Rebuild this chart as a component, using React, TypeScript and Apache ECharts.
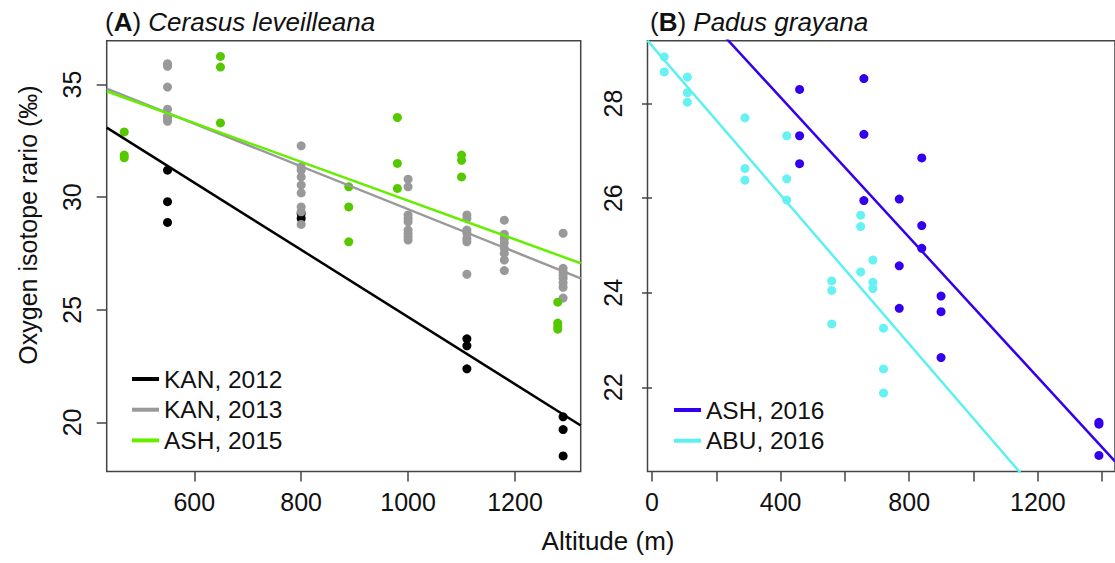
import React, { useEffect, useRef } from "react";
import * as echarts from "echarts";

// ---------- Panel A: Cerasus leveilleana ----------
const kan2012X = [550, 550, 550, 800, 800, 1110, 1110, 1110, 1290, 1290, 1290];
const kan2012Y = [31.2, 29.8, 28.88, 29.28, 29.06, 23.71, 23.4, 22.38, 20.25, 19.68, 18.51];

const kan2013X = [
  550, 550, 550, 550, 550, 550, 550,
  800, 800, 800, 800, 800, 800, 800, 800, 800,
  1000, 1000, 1000, 1000, 1000, 1000, 1000, 1000, 1000,
  1110, 1110, 1110, 1110, 1110, 1110, 1110,
  1180, 1180, 1180, 1180, 1180, 1180, 1180, 1180,
  1290, 1290, 1290, 1290, 1290, 1290, 1290, 1290,
];
const kan2013Y = [
  35.93, 35.81, 34.89, 33.91, 33.59, 33.49, 33.37,
  32.28, 31.35, 31.2, 30.9, 30.54, 30.19, 29.57, 29.35, 28.79,
  30.8, 30.46, 29.21, 29.06, 28.91, 28.54, 28.4, 28.24, 28.1,
  29.21, 29.06, 28.54, 28.4, 28.17, 28.02, 26.58,
  28.98, 28.36, 28.17, 27.98, 27.73, 27.51, 27.21, 26.74,
  28.4, 26.84, 26.69, 26.55, 26.4, 26.2, 26.0, 25.52,
];

const ash2015X = [469, 469, 469, 649, 649, 649, 889, 889, 889, 980, 980, 980, 1100, 1100, 1100, 1280, 1280, 1280, 1280];
const ash2015Y = [32.9, 31.87, 31.75, 36.25, 35.78, 33.3, 30.46, 29.57, 28.02, 33.54, 31.5, 30.39, 31.87, 31.64, 30.9, 25.34, 24.41, 24.26, 24.14];

// ---------- Panel B: Padus grayana ----------
const ash2016X = [459, 459, 459, 659, 659, 659, 769, 769, 769, 839, 839, 839, 899, 899, 899, 1390, 1390, 1390];
const ash2016Y = [28.3, 27.32, 26.73, 28.53, 27.35, 25.95, 25.98, 24.57, 23.67, 26.85, 25.42, 24.94, 23.93, 23.6, 22.63, 21.26, 21.22, 20.56];

const abu2016X = [38, 38, 110, 110, 110, 289, 289, 289, 419, 419, 419, 559, 559, 559, 649, 649, 649, 687, 687, 687, 720, 720, 720];
const abu2016Y = [28.99, 28.67, 28.56, 28.23, 28.03, 27.7, 26.63, 26.38, 27.32, 26.41, 25.96, 24.25, 24.05, 23.34, 25.64, 25.4, 24.44, 24.69, 24.22, 24.09, 23.25, 22.39, 21.88];

// regression fits: [intercept, slope]
const seriesNamesA = ["KAN, 2012", "KAN, 2013", "ASH, 2015"];
const fitInterceptA = [39.6, 38.97, 38.46];
const fitSlopeA = [-0.01492, -0.009503, -0.008612];
const seriesNamesB = ["ASH, 2016", "ABU, 2016"];
const fitInterceptB = [31.09, 29.22];
const fitSlopeB = [-0.0074, -0.00788];

// tick labels
const xTicksA = [600, 800, 1000, 1200];
const yTicksA = [20, 25, 30, 35];
const xTicksB = [0, 200, 400, 600, 800, 1000, 1200, 1400];
const xLabelsB = [0, 400, 800, 1200];
const yTicksB = [22, 24, 26, 28];

const pointColorsA = ["#000000", "#999999", "#55C800"];
const lineColorsA = ["#000000", "#999999", "#66EE00"];
const pointColorsB = ["#3300EE", "#66F2F2"];
const lineColorsB = ["#3300EE", "#5CF0F0"];

const FONT = "'Liberation Sans', Arial, Helvetica, sans-serif";

const X_A = [436.2, 1322.9];
const Y_A = [17.82, 36.95];
const X_B = [-14, 1440];
const Y_B = [20.22, 29.33];

function zip(xs: number[], ys: number[]) {
  return xs.map((x, i) => [x, ys[i]]);
}

export default function App() {
  const ref = useRef<HTMLDivElement>(null);
  useEffect(() => {
    document.body.style.margin = "0";
    document.body.style.overflow = "hidden";
    const chart = echarts.init(ref.current!, null, { renderer: "svg" });

    const axisTextStyle = {
      fontFamily: FONT,
      fontSize: 25,
      color: "#111",
      formatter: (v: number) => String(v),
    };
    const tick = (vals: number[]) => ({
      show: true,
      inside: false,
      length: 10,
      customValues: vals,
      lineStyle: { color: "#444", width: 1.5 },
    });

    const xAxisCommon = {
      type: "value",
      axisLine: { show: false },
      splitLine: { show: false },
    };

    const pointsA = [zip(kan2012X, kan2012Y), zip(kan2013X, kan2013Y), zip(ash2015X, ash2015Y)];
    const pointsB = [zip(ash2016X, ash2016Y), zip(abu2016X, abu2016Y)];

    const series: any[] = [];
    seriesNamesA.forEach((name, i) => {
      series.push({
        name,
        type: "line",
        xAxisIndex: 0,
        yAxisIndex: 0,
        showSymbol: false,
        symbol: "none",
        clip: true,
        color: lineColorsA[i],
        lineStyle: { color: lineColorsA[i], width: 2.5 },
        itemStyle: { color: lineColorsA[i] },
        data: X_A.map((x) => [x, fitInterceptA[i] + fitSlopeA[i] * x]),
        z: 3,
      });
    });
    seriesNamesA.forEach((name, i) => {
      series.push({
        name: name + " points",
        type: "scatter",
        xAxisIndex: 0,
        yAxisIndex: 0,
        symbolSize: 9,
        itemStyle: { color: pointColorsA[i], opacity: 1 },
        data: pointsA[i],
        z: 2,
      });
    });
    seriesNamesB.forEach((name, i) => {
      series.push({
        name,
        type: "line",
        xAxisIndex: 1,
        yAxisIndex: 1,
        showSymbol: false,
        symbol: "none",
        clip: true,
        color: lineColorsB[i],
        lineStyle: { color: lineColorsB[i], width: 2.5 },
        itemStyle: { color: lineColorsB[i] },
        data: X_B.map((x) => [x, fitInterceptB[i] + fitSlopeB[i] * x]),
        z: 3,
      });
    });
    seriesNamesB.forEach((name, i) => {
      series.push({
        name: name + " points",
        type: "scatter",
        xAxisIndex: 1,
        yAxisIndex: 1,
        symbolSize: 9,
        itemStyle: { color: pointColorsB[i], opacity: 1 },
        data: pointsB[i],
        z: 2,
      });
    });

    const legendCommon = {
      orient: "vertical",
      icon: "rect",
      itemWidth: 27,
      itemHeight: 4,
      itemGap: 4.7,
      padding: 0,
      selectedMode: false,
      textStyle: { fontFamily: FONT, fontSize: 24.5, color: "#111", lineHeight: 26 },
    };

    const titleRich = {
      b: { fontFamily: FONT, fontSize: 26, fontWeight: "bold", color: "#111" },
      i: { fontFamily: FONT, fontSize: 26, fontStyle: "italic", color: "#111" },
    };

    chart.setOption({
      animation: false,
      backgroundColor: "#ffffff",
      title: [
        {
          text: "({b|A}) {i|Cerasus leveilleana}",
          left: 105,
          top: 9,
          padding: 0,
          textStyle: { fontFamily: FONT, fontSize: 26, fontWeight: "normal", color: "#111", rich: titleRich },
        },
        {
          text: "({b|B}) {i|Padus grayana}",
          left: 650,
          top: 9,
          padding: 0,
          textStyle: { fontFamily: FONT, fontSize: 26, fontWeight: "normal", color: "#111", rich: titleRich },
        },
      ],
      legend: [
        { ...legendCommon, left: 132, top: 366, data: seriesNamesA },
        { ...legendCommon, left: 674, top: 397, data: seriesNamesB },
      ],
      grid: [
        { left: 106.7, right: 1115 - 580.7, top: 40.7, bottom: 563 - 471.5, show: true, borderColor: "#444", borderWidth: 1.5, backgroundColor: "transparent" },
        { left: 647.5, right: -5, top: 40.7, bottom: 563 - 471.5, show: true, borderColor: "#444", borderWidth: 1.5, backgroundColor: "transparent" },
      ],
      xAxis: [
        {
          ...xAxisCommon,
          gridIndex: 0,
          min: X_A[0],
          max: X_A[1],
          axisTick: tick(xTicksA),
          axisLabel: { ...axisTextStyle, margin: 18, customValues: xTicksA },
        },
        {
          ...xAxisCommon,
          gridIndex: 1,
          min: X_B[0],
          max: X_B[1],
          axisTick: tick(xTicksB),
          axisLabel: { ...axisTextStyle, margin: 18, customValues: xLabelsB },
        },
      ],
      yAxis: [
        {
          ...xAxisCommon,
          gridIndex: 0,
          min: Y_A[0],
          max: Y_A[1],
          axisTick: tick(yTicksA),
          axisLabel: { ...axisTextStyle, margin: 22, rotate: 90, customValues: yTicksA },
        },
        {
          ...xAxisCommon,
          gridIndex: 1,
          min: Y_B[0],
          max: Y_B[1],
          axisTick: tick(yTicksB),
          axisLabel: { ...axisTextStyle, margin: 22, rotate: 90, customValues: yTicksB },
        },
      ],
      graphic: [
        {
          type: "text",
          x: 608,
          y: 541,
          style: {
            text: "Altitude (m)",
            fontFamily: FONT,
            fontSize: 26,
            fill: "#111",
            align: "center",
            verticalAlign: "middle",
          },
        },
        {
          type: "text",
          x: 28,
          y: 225,
          rotation: Math.PI / 2,
          style: {
            text: "Oxygen isotope rario (‰)",
            fontFamily: FONT,
            fontSize: 25,
            fill: "#111",
            align: "center",
            verticalAlign: "middle",
          },
        },
      ],
      series,
    });
    return () => chart.dispose();
  }, []);
  return <div ref={ref} style={{ width: 1115, height: 563 }} />;
}
